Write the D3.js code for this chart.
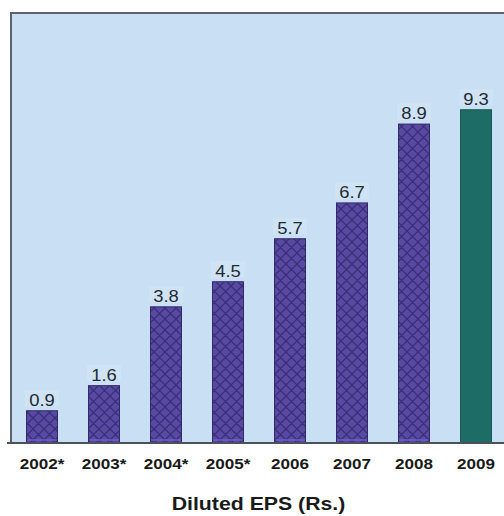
<!DOCTYPE html>
<html>
<head>
<meta charset="utf-8">
<script src="https://cdn.jsdelivr.net/npm/d3@7"></script>
<style>
  html, body { margin: 0; padding: 0; background: #ffffff; }
  svg { display: block; }
  text { font-family: "Liberation Sans", Arial, Helvetica, sans-serif; }
</style>
</head>
<body>
<svg id="chart" width="504" height="516"></svg>
<script>
// Diluted EPS by year (Rs.)
const years = ["2002*", "2003*", "2004*", "2005*", "2006", "2007", "2008", "2009"];
const eps = [0.9, 1.6, 3.8, 4.5, 5.7, 6.7, 8.9, 9.3];
const highlightYear = "2009";
const axisTitle = "Diluted EPS (Rs.)";

const svg = d3.select("#chart");
const W = 504, H = 516;
const plot = { left: 11, top: 13, right: 507, bottom: 443 };
const stretch = 1.15; // horizontal stretch applied to the text

const x = d3.scaleBand()
  .domain(years)
  .range([plot.left, plot.right])
  .paddingInner(0.5)
  .paddingOuter(0.25);

const y = d3.scaleLinear()
  .domain([0, 12])
  .range([plot.bottom, plot.top]);

// cross-hatch fill for the bars
const T = 11;
const defs = svg.append("defs");
const pat = defs.append("pattern")
  .attr("id", "hatch")
  .attr("patternUnits", "userSpaceOnUse")
  .attr("width", T).attr("height", T)
  .attr("x", 0).attr("y", 0);
pat.append("rect").attr("width", T).attr("height", T).attr("fill", "#5849a3");
pat.append("path")
  .attr("d", `M-1,1 L1,-1 M0,${T} L${T},0 M${T - 1},${T + 1} L${T + 1},${T - 1} M-1,${T - 1} L1,${T + 1} M0,0 L${T},${T} M${T - 1},-1 L${T + 1},1`)
  .attr("stroke", "#3b2e79").attr("stroke-width", 1.3).attr("fill", "none");

// plot background
svg.append("rect")
  .attr("x", plot.left).attr("y", plot.top)
  .attr("width", W - plot.left + 4).attr("height", plot.bottom - plot.top)
  .attr("fill", "#c9dff3");

// bars
const bars = svg.append("g");
bars.selectAll("rect.bar")
  .data(years.map((yr, i) => ({ yr, v: eps[i] })))
  .join("rect")
  .attr("class", "bar")
  .attr("x", d => x(d.yr))
  .attr("y", d => y(d.v))
  .attr("width", x.bandwidth())
  .attr("height", d => y(0) - y(d.v))
  .attr("fill", d => d.yr === highlightYear ? "#1d6c65" : "url(#hatch)")
  .attr("stroke", d => d.yr === highlightYear ? "#185a54" : "#33296a")
  .attr("stroke-width", 1);

// lighter strip along the foot of the hatched bars
bars.selectAll("rect.foot")
  .data(years.filter(yr => yr !== highlightYear))
  .join("rect")
  .attr("class", "foot")
  .attr("x", d => x(d) + 1)
  .attr("y", y(0) - 4)
  .attr("width", x.bandwidth() - 2)
  .attr("height", 2)
  .attr("fill", "#6d5fcf")
  .attr("opacity", 0.7);

// value labels above the bars
const labels = svg.append("g");
const lab = labels.selectAll("g")
  .data(years.map((yr, i) => ({ yr, v: eps[i] })))
  .join("g")
  .attr("transform", d => `translate(${x(d.yr) + x.bandwidth() / 2},${y(d.v) - 5})`);
lab.append("rect")
  .attr("x", -17).attr("y", -16)
  .attr("width", 34).attr("height", 17)
  .attr("fill", "#d6e6f6").attr("opacity", 0.55);
lab.append("text")
  .attr("text-anchor", "middle")
  .attr("transform", `scale(${stretch},1)`)
  .attr("font-size", 16)
  .attr("fill", "#1f2a33")
  .text(d => d.v.toFixed(1));

// frame: left and top borders
svg.append("path")
  .attr("d", `M${plot.left},${plot.bottom} V${plot.top} H${W + 2}`)
  .attr("fill", "none")
  .attr("stroke", "#5b646c")
  .attr("stroke-width", 2);

// x axis
const xAxis = svg.append("g")
  .attr("transform", `translate(0,${plot.bottom})`)
  .call(d3.axisBottom(x).tickSize(0).tickPadding(0));
xAxis.select(".domain")
  .attr("d", `M${plot.left - 4},0 H${W + 2}`)
  .attr("stroke", "#4a5259")
  .attr("stroke-width", 2);
xAxis.selectAll(".tick text")
  .attr("y", 0).attr("dy", null)
  .attr("transform", `translate(0,26) scale(1.1,1)`)
  .attr("font-size", 15.5)
  .attr("font-weight", "bold")
  .attr("fill", "#1a1a1a")
  .attr("font-family", "'Liberation Sans', Arial, sans-serif");

// axis title
svg.append("text")
  .attr("transform", `translate(${(plot.left + W) / 2 + 1},510) scale(${stretch},1)`)
  .attr("text-anchor", "middle")
  .attr("font-size", 18.5)
  .attr("font-weight", "bold")
  .attr("fill", "#1a1a1a")
  .text(axisTitle);
</script>
</body>
</html>
